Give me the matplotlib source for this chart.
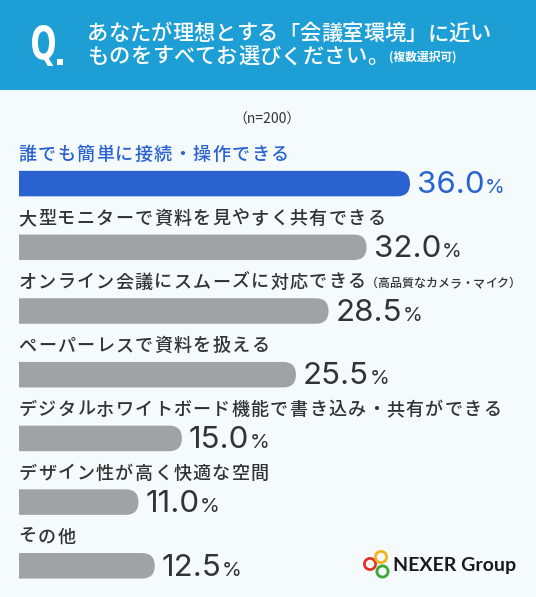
import matplotlib
matplotlib.use("Agg")
import matplotlib.pyplot as plt
import numpy as np
from matplotlib.patches import FancyBboxPatch, Rectangle, Circle, PathPatch
from matplotlib.textpath import TextPath
from matplotlib.font_manager import FontProperties
from matplotlib.transforms import Affine2D, IdentityTransform

# ---- data ----
categories = [
    "誰でも簡単に接続・操作できる",
    "大型モニターで資料を見やすく共有できる",
    "オンライン会議にスムーズに対応できる",
    "ペーパーレスで資料を扱える",
    "デジタルホワイトボード機能で書き込み・共有ができる",
    "デザイン性が高く快適な空間",
    "その他",
]
category_notes = ["", "", "（高品質なカメラ・マイク）", "", "", "", ""]
values = [36.0, 32.0, 28.5, 25.5, 15.0, 11.0, 12.5]
title_line1 = "あなたが理想とする「会議室環境」に近い"
title_line2 = "ものをすべてお選びください。"
title_note = "(複数選択可)"
sample_note = "（n=200）"

# ---- styles ----
W, H = 536, 597
BG = "#f5fafd"
HEADER = "#1d9fd5"
BLUE = "#2a63d0"
GRAY = "#a1a2a6"
DARK = "#333333"
JP = ["Noto Sans CJK JP", "DejaVu Sans"]
NUM = ["Inter", "DejaVu Sans"]

fig = plt.figure(figsize=(W / 100, H / 100), dpi=100, facecolor=BG)

# overlay in pixel coordinates for decorations
ov = fig.add_axes([0, 0, 1, 1])
ov.set_xlim(0, W)
ov.set_ylim(H, 0)
ov.axis("off")
ov.add_patch(Rectangle((0, 0), W, 90, color=HEADER, lw=0))


def tracked(x, y, s, size, track, **kw):
    """Draw full-width text char by char with extra letter spacing (pixels)."""
    em = size * 100 / 72
    for k, ch in enumerate(s):
        ov.text(x + k * (em + track), y, ch, fontsize=size, va="center", ha="left",
                family=JP, **kw)
    return x + len(s) * (em + track)


# "Q." drawn as condensed glyph
qp = TextPath((0, 0), "Q", size=55, prop=FontProperties(family="DejaVu Sans", weight="bold"))
qb = qp.get_extents()
qt = Affine2D().translate(-qb.x0, -qb.y0).scale(23 / qb.width, -41 / qb.height).translate(32, 66)
ov.add_patch(PathPatch(qt.transform_path(qp), color="white", lw=0))
ov.add_patch(Rectangle((57, 59), 5.5, 6, color="white", lw=0))

tracked(87, 34, title_line1, 15.3, 0.0, color="white", weight="medium")
x_end = tracked(87, 57, title_line2, 15.3, 0.3, color="white", weight="medium")
ov.text(x_end + 0.5, 57.5, title_note, family=JP, fontsize=8.5, color="white",
        va="center", ha="left", weight="bold")
ov.text(267, 120, sample_note, family=JP, fontsize=10, color=DARK,
        va="center", ha="center")

# ---- bar axes ----
spacing = 63.7
top_px, bot_px = 150, 597
left_px, right_px = 19, 519
ax = fig.add_axes([left_px / W, 1 - bot_px / H, (right_px - left_px) / W, (bot_px - top_px) / H])
ax.set_facecolor("none")
ax.axis("off")
y0 = -(183.6 - top_px) / spacing
ax.set_ylim(y0 + (bot_px - top_px) / spacing, y0)
ax.set_xlim(0, 36.0 * (right_px - left_px) / 391)

ypos = np.arange(len(values))
bar_h = 25.5 / spacing
colors = [BLUE] + [GRAY] * (len(values) - 1)
bars = ax.barh(ypos, values, height=bar_h, color=colors)

# rounded right ends (pixel space), square left end via clipping
for b, c in zip(bars, colors):
    b.set_visible(False)
    (x0, ya), (x1, yb) = ax.transData.transform([(b.get_x(), b.get_y()),
                                                  (b.get_x() + b.get_width(), b.get_y() + b.get_height())])
    ylo, yhi = min(ya, yb), max(ya, yb)
    r = (yhi - ylo) / 2
    p = FancyBboxPatch((x0 - 2 * r, ylo), (x1 - x0) + 2 * r, yhi - ylo,
                       boxstyle=f"round,pad=0,rounding_size={r}",
                       transform=IdentityTransform(), color=c, lw=0)
    fig.add_artist(p)
    p.set_clip_box(ax.bbox)

# category labels (positioned from the bar axis)
for i, (cat, note) in enumerate(zip(categories, category_notes)):
    col = BLUE if i == 0 else DARK
    xd, yd = ax.transData.transform((0, i))
    ly = H - yd - 28.5
    xe = tracked(xd - 0.5, ly, cat, 13, 1.3, color=col, weight="medium")
    if note:
        tracked(xe - 1.3, ly + 1, note, 8.6, 0.0, color=col, weight="medium")

# value labels
fig.canvas.draw()
for i, v in enumerate(values):
    col = BLUE if i == 0 else DARK
    n = ax.annotate(f"{v:.1f}", xy=(v, i), xytext=(7, -9.7), textcoords="offset pixels",
                    va="baseline", ha="left", family=NUM, fontsize=22.5, color=col)
    fig.canvas.draw()
    bb = n.get_window_extent()
    ax.annotate("%", xy=(v, i), xytext=(7 + bb.width + 0.5, -9.7), textcoords="offset pixels",
                va="baseline", ha="left", family=NUM, fontsize=14.5, color=col)

# ---- logo ----
for (cx, cy), rc in zip([(370, 564), (381, 557), (382.5, 571.5)],
                        ["#e0352b", "#f2b318", "#3aa935"]):
    ov.add_patch(Circle((cx, cy), 5.6, fill=False, ec=rc, lw=2.0))
ov.text(393, 571, "NEXER Group", family=["Lato", "DejaVu Sans"], weight="bold",
        fontsize=14, color="#1a1a1a", va="baseline", ha="left")

fig.savefig("out.png", dpi=100, facecolor=BG)
